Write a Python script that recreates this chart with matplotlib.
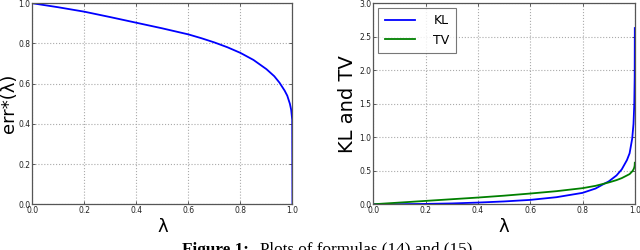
import matplotlib
matplotlib.use("Agg")
import matplotlib.pyplot as plt

# values
lam_err = [0.0, 0.1, 0.2, 0.3, 0.4, 0.5, 0.6, 0.65, 0.7, 0.75, 0.8, 0.85, 0.9,
           0.93, 0.95, 0.97, 0.98, 0.99, 0.995, 0.999, 1.0]
err = [1.0, 0.98, 0.958, 0.931, 0.903, 0.875, 0.845, 0.826, 0.805, 0.781, 0.753,
       0.718, 0.672, 0.637, 0.605, 0.565, 0.54, 0.5, 0.47, 0.42, 0.0]

lam_div = [0.0, 0.1, 0.2, 0.3, 0.4, 0.5, 0.6, 0.7, 0.8, 0.85, 0.88, 0.9, 0.93,
           0.95, 0.97, 0.98, 0.99, 0.995, 0.998, 0.9995, 1.0]
kl = [0.0, 0.001, 0.005, 0.012, 0.025, 0.042, 0.065, 0.105, 0.17, 0.235, 0.3,
      0.34, 0.43, 0.52, 0.66, 0.76, 0.98, 1.2, 1.5, 1.9, 2.63]
tv = [0.0, 0.025, 0.05, 0.075, 0.1, 0.128, 0.16, 0.195, 0.24, 0.275, 0.305,
      0.325, 0.36, 0.39, 0.43, 0.45, 0.49, 0.52, 0.55, 0.58, 0.62]

ticks_err = [0.0, 0.2, 0.4, 0.6, 0.8, 1.0]
ticks_x = [0.0, 0.2, 0.4, 0.6, 0.8, 1.0]
ticks_div = [0.0, 0.5, 1.0, 1.5, 2.0, 2.5, 3.0]

fig = plt.figure(figsize=(6.4, 2.5), dpi=100)
ax1 = fig.add_axes([0.0505, 0.183, 0.4065, 0.804])
ax2 = fig.add_axes([0.5833, 0.183, 0.4086, 0.804])


def style(ax, yticks):
    ax.set_xlim(0, 1)
    ax.set_xticks(ticks_x)
    ax.set_yticks(yticks)
    ax.set_ylim(yticks[0], yticks[-1])
    ax.set_xticklabels(["%.1f" % t for t in ticks_x])
    ax.set_yticklabels(["%.1f" % t for t in yticks])
    ax.tick_params(direction="in", length=2.5, width=0.6, labelsize=5.5,
                   pad=1.5, top=True, right=True, colors="#444444",
                   labelcolor="#222222")
    ax.grid(True, linestyle=":", color="#aaaaaa", linewidth=0.8)
    for s in ax.spines.values():
        s.set_color("#555555")
        s.set_linewidth(0.9)
    ax.set_xlabel("λ", fontsize=13, labelpad=2)


ax1.plot(lam_err, err, color="#0000ff", linewidth=1.3)
style(ax1, ticks_err)
ax1.set_ylabel("err*(λ)", fontsize=13)
ax1.yaxis.set_label_coords(-0.055, 0.5)

ax2.plot(lam_div, kl, color="#0000ff", linewidth=1.3, label="KL")
ax2.plot(lam_div, tv, color="#008000", linewidth=1.3, label="TV")
style(ax2, ticks_div)
ax2.set_ylabel("KL and TV", fontsize=14)
ax2.yaxis.set_label_coords(-0.062, 0.5)
leg = ax2.legend(loc="upper left", fontsize=9, fancybox=False,
                 handlelength=2.4, borderpad=0.5, labelspacing=0.5,
                 handletextpad=1.5, borderaxespad=0.4)
leg.get_frame().set_edgecolor("#555555")
leg.get_frame().set_linewidth(0.8)

fig.text(0.284, -0.03, "Figure 1:", ha="left", va="bottom", fontsize=12.3,
         family="Liberation Serif", fontweight="bold")
fig.text(0.406, -0.03, "Plots of formulas (14) and (15).", ha="left",
         va="bottom", fontsize=12.3, family="Liberation Serif")

fig.savefig("out.png", dpi=100)
